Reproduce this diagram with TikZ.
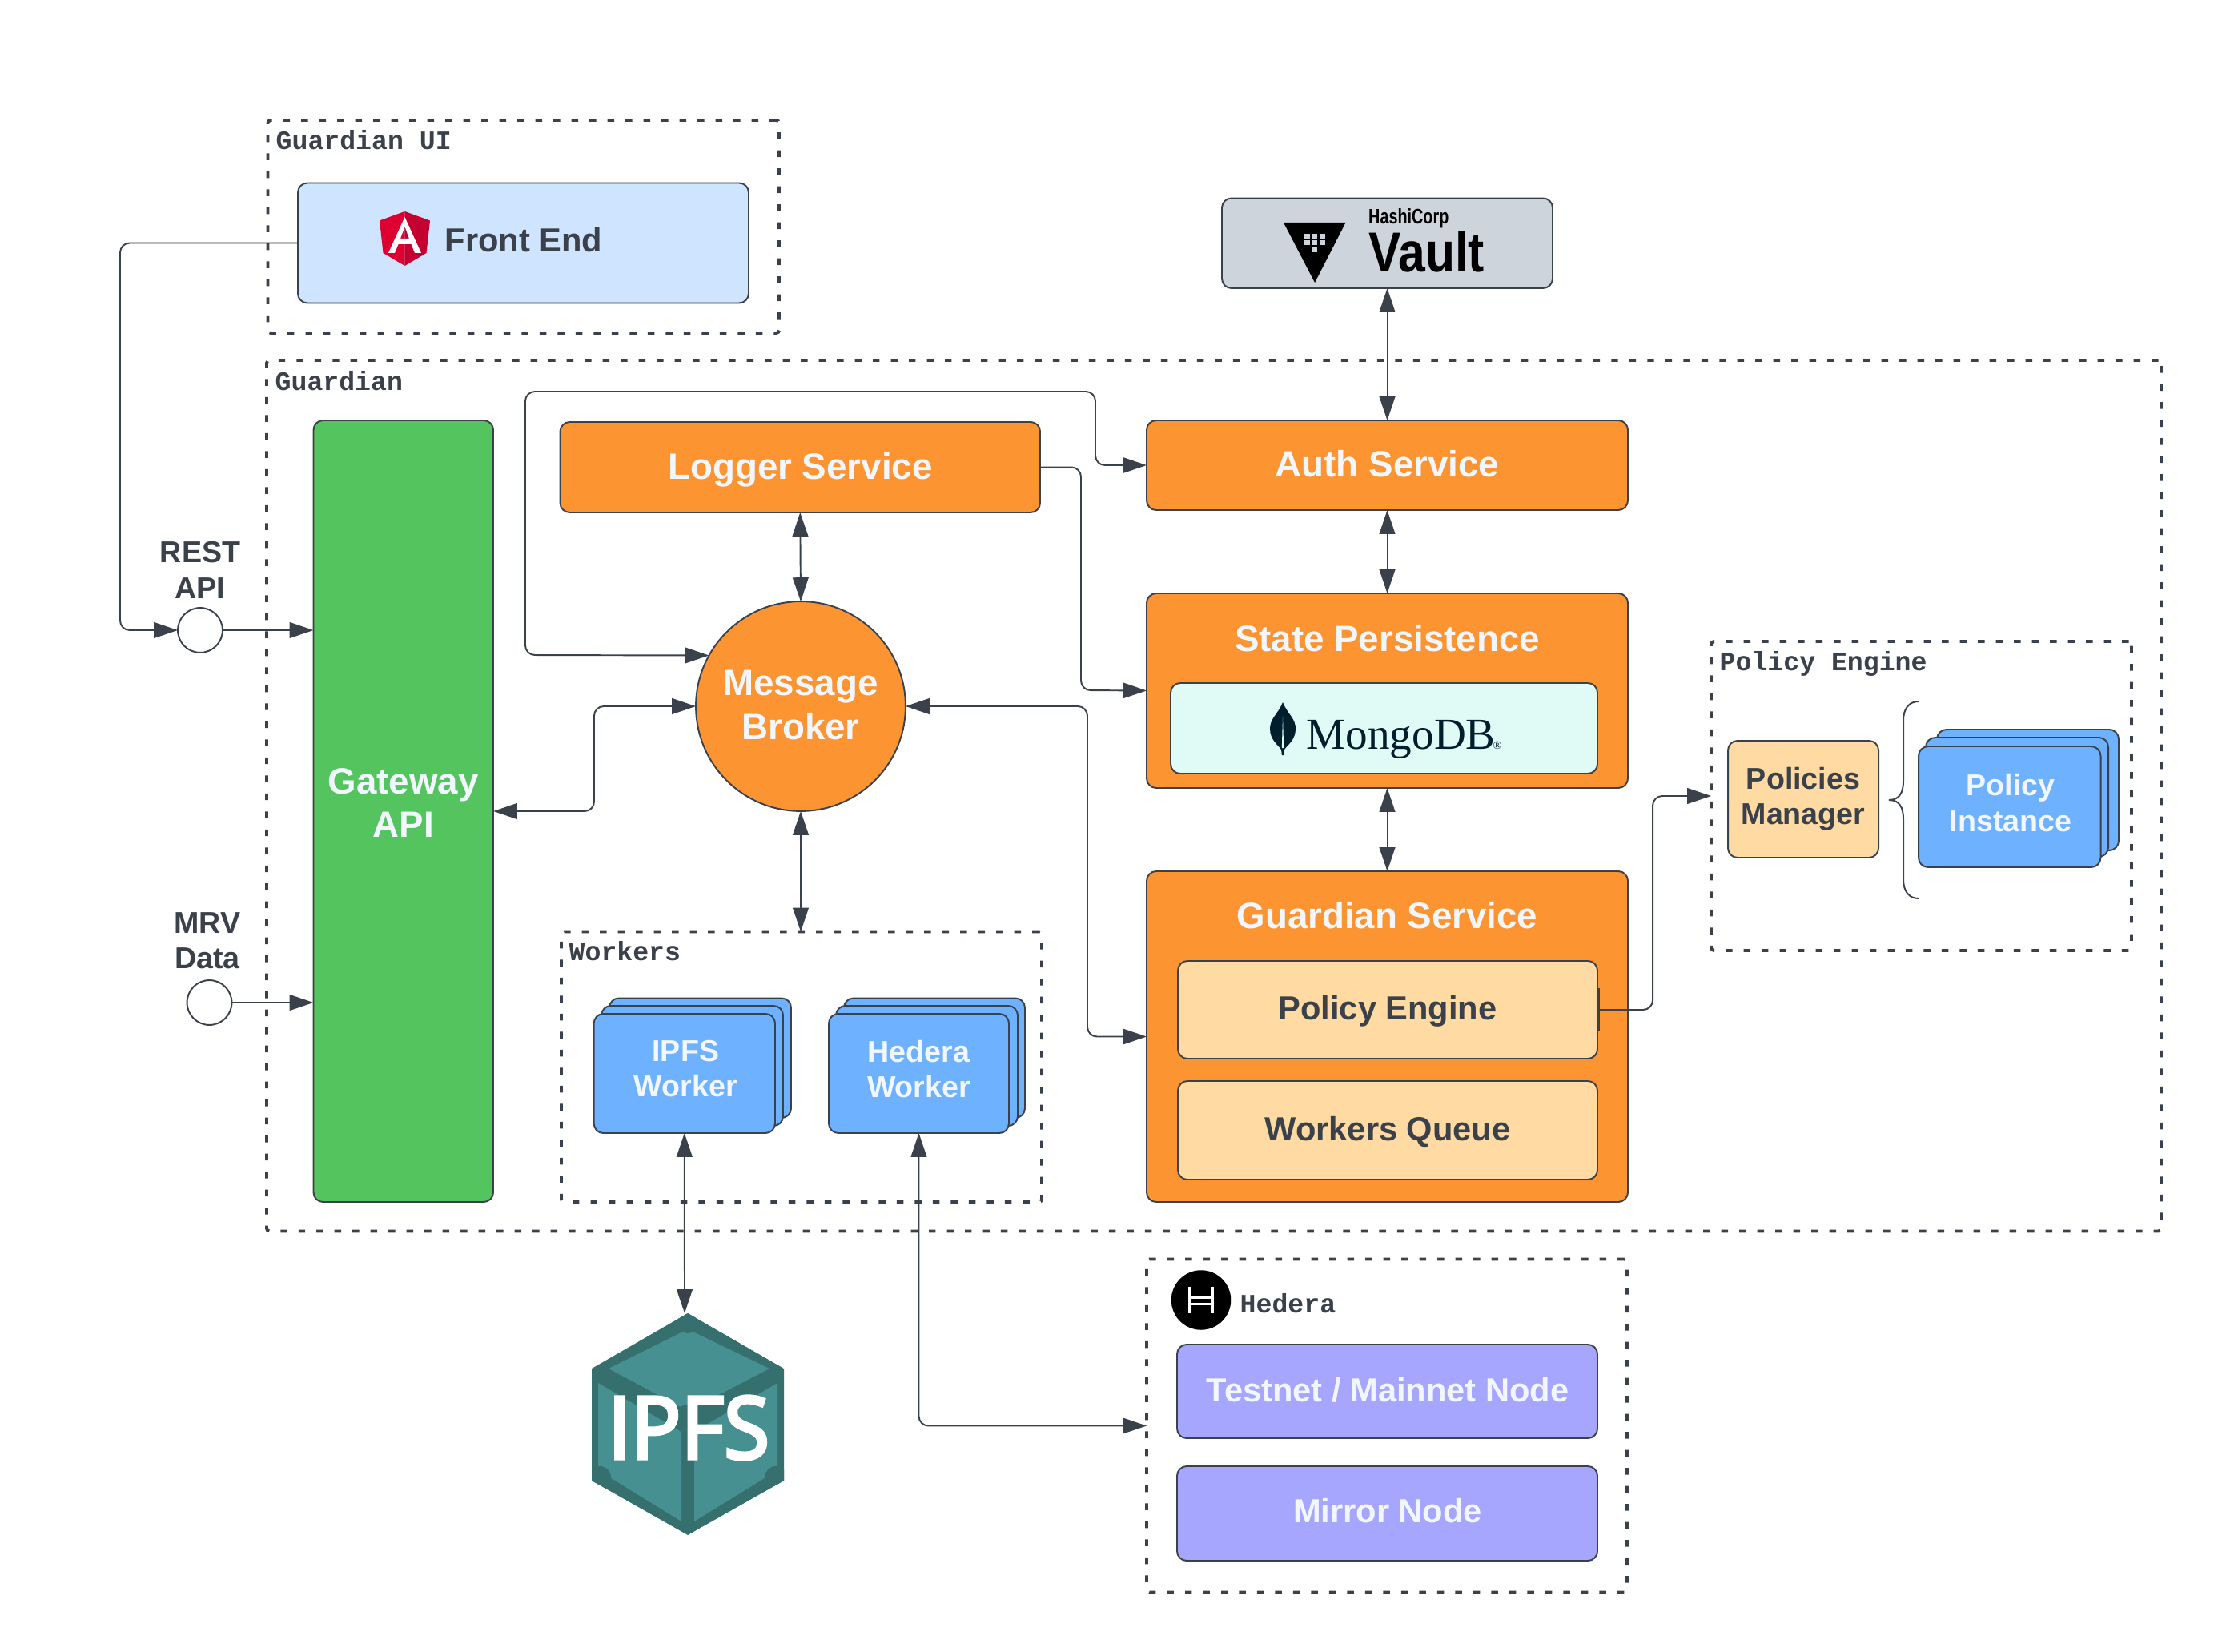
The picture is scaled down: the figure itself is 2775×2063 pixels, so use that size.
\documentclass[tikz,border=0pt]{standalone}
\usepackage{fontspec}
\usepackage{graphicx}
\setmainfont{Liberation Sans}
\setmonofont{Liberation Mono}
\newfontfamily\openf[FakeBold=4]{Open Sans}
\newfontfamily\serf{Liberation Serif}
\usetikzlibrary{arrows.meta}
\definecolor{ink}{HTML}{3A414A}
\definecolor{txtw}{HTML}{F2F7FF}
\definecolor{orng}{HTML}{FC9432}
\definecolor{grn}{HTML}{54C45E}
\definecolor{blu}{HTML}{6DB1FF}
\definecolor{lblu}{HTML}{CFE4FF}
\definecolor{pale}{HTML}{FFDBA3}
\definecolor{purp}{HTML}{A6A6FF}
\definecolor{gry}{HTML}{CED4DB}
\definecolor{mint}{HTML}{E0FAF6}
\definecolor{ipd}{HTML}{35706F}
\definecolor{ipl}{HTML}{469092}
\definecolor{mong}{HTML}{001E2B}
\definecolor{DDred}{HTML}{DD0031}
\definecolor{DDdark}{HTML}{C3002F}
\newcommand\fbig{\fontsize{13}{15.6}\selectfont\bfseries}
\newcommand\fmed{\fontsize{11.85}{14}\selectfont\bfseries}
\newcommand\fsma{\fontsize{10.7}{12.6}\selectfont\bfseries}
\newcommand\fmon{\fontsize{9.44}{11}\selectfont\ttfamily\bfseries}
\newcommand\bx[7]{\node[#6,minimum width={(#4-#2)*0.28453pt},minimum height={(#5-#3)*0.28453pt}] (#1) at ({(#2+#4)/2},{(#3+#5)/2}) {#7};}
\tikzset{
  allbox/.style={draw=ink,line width=0.55pt,rounded corners=3.4pt,inner sep=0pt,outer sep=0pt,align=center},
  orbox/.style={allbox,fill=orng},
  palebox/.style={allbox,fill=pale},
  blubox/.style={allbox,fill=blu},
  purbox/.style={allbox,fill=purp},
  framebox/.style={draw=ink,line width=1.1pt,dash pattern=on 2.4pt off 4pt,rounded corners=1pt,inner sep=0pt,outer sep=0pt},
  framelabel/.style={anchor=base west,inner sep=0pt,text=ink,font=\fmon},
  plainlabel/.style={inner sep=0pt,align=center,text=ink,font=\fsma},
  titlelabel/.style={inner sep=0pt,align=center,text=txtw,font=\fbig},
  medlabel/.style={inner sep=0pt,align=center,text=txtw,font=\fmed},
  inklabel/.style={inner sep=0pt,align=center,text=ink,font=\fmed},
  smalabel/.style={inner sep=0pt,align=center,text=txtw,font=\fsma},
  portc/.style={circle,draw=ink,fill=white,line width=0.55pt,inner sep=0pt,outer sep=0pt,minimum size=15.9pt},
  conn/.style={draw=ink,line width=0.55pt,rounded corners=3.4pt,-{Triangle[length=8.5pt,width=5.6pt]}},
  conn2/.style={draw=ink,line width=0.55pt,rounded corners=3.4pt,{Triangle[length=8.5pt,width=5.6pt]}-{Triangle[length=8.5pt,width=5.6pt]}},
}
\begin{document}
\begin{tikzpicture}[x=0.1mm,y=-0.1mm]
\useasboundingbox (0,0) rectangle (2775,2063);
\fill[white] (0,0) rectangle (2775,2063);
% frames
\bx{fui}{334.5}{150}{973}{416}{framebox}{}
\bx{fgd}{333}{450}{2699}{1537.5}{framebox}{}
\bx{fpe}{2137}{801}{2662}{1187}{framebox}{}
\bx{fwk}{701}{1163.5}{1301}{1501}{framebox}{}
\bx{fhd}{1432}{1572.5}{2032}{1988.5}{framebox}{}
\node[framelabel] (lui) at (344,187) {Guardian UI};
\node[framelabel] (lgd) at (343,488) {Guardian};
\node[framelabel] (lpe) at (2147,838) {Policy Engine};
\node[framelabel] (lwk) at (710,1199) {Workers};
\node[framelabel] (lhd) at (1548,1639) {Hedera};
% boxes
\bx{fe}{372}{228.5}{935}{378.5}{allbox,fill=lblu}{}
\node[anchor=west,inner sep=0pt,text=ink,font=\fmed] (fet) at (555,299.5) {Front End};
\bx{vault}{1526}{247.5}{1939}{360}{allbox,fill=gry}{}
\bx{gw}{391.5}{525}{616}{1501}{allbox,fill=grn}{}
\node[titlelabel] (gwt) at (503.7,1002.5) {Gateway\\API};
\bx{lg}{699.5}{527}{1299}{640}{orbox}{}
\node[titlelabel] (lgt) at (999.5,587) {Logger Service};
\bx{auth}{1432}{525}{2033}{637}{orbox}{}
\node[titlelabel] (autht) at (1732.5,579) {Auth Service};
\bx{st}{1432}{741}{2033}{984}{orbox}{}
\node[titlelabel] (stt) at (1732.5,797) {State Persistence};
\bx{mg}{1462}{853}{1995}{966}{allbox,fill=mint}{}
\bx{gs}{1432}{1088}{2033}{1501}{orbox}{}
\node[titlelabel] (gst) at (1732.5,1143) {Guardian Service};
\bx{pe}{1471}{1200}{1995}{1322}{palebox}{}
\node[inklabel] (pet) at (1733,1262.5) {Policy Engine};
\bx{wq}{1471}{1350}{1995}{1473}{palebox}{}
\node[inklabel] (wqt) at (1733,1413) {Workers Queue};
\node[circle,draw=ink,fill=orng,line width=0.55pt,inner sep=0pt,outer sep=0pt,minimum size=74.5pt,align=center,text=txtw,font=\fbig] (mb) at (1000,882) {};
\node[titlelabel] (mbt) at (1000,880.5) {Message\\Broker};
\bx{pm}{2158}{925}{2346}{1071}{allbox,fill=pale,text=ink,font=\fsma}{Policies\\Manager}
\bx{pi3}{2419}{911}{2646}{1062}{blubox}{}
\bx{pi2}{2405}{921}{2633}{1070}{blubox}{}
\bx{pi}{2396}{932}{2623.5}{1083}{blubox}{}
\node[smalabel] (pit) at (2511,1002.5) {Policy\\Instance};
\bx{iw3}{761}{1246.5}{988}{1396}{blubox}{}
\bx{iw2}{751}{1256}{978}{1406}{blubox}{}
\bx{iw}{741.6}{1266}{968}{1415}{blubox}{}
\node[smalabel] (iwt) at (856.3,1334.5) {IPFS\\Worker};
\bx{hw3}{1054}{1246.5}{1280}{1396}{blubox}{}
\bx{hw2}{1044}{1256}{1271}{1406}{blubox}{}
\bx{hw}{1035}{1266}{1260}{1415}{blubox}{}
\node[smalabel] (hwt) at (1147.5,1335) {Hedera\\Worker};
\bx{tn}{1470}{1679}{1995}{1796}{purbox}{}
\node[medlabel] (tnt) at (1733,1736) {Testnet / Mainnet Node};
\bx{mn}{1470}{1831}{1995}{1949}{purbox}{}
\node[medlabel] (mnt) at (1733,1887) {Mirror Node};
% ports
\node[portc] (rest) at (250,787) {};
\node[portc] (mrv) at (261.5,1252) {};
\node[plainlabel] (restl) at (250,712) {REST\\API};
\node[plainlabel] (mrvl) at (259,1175) {MRV\\Data};
% brace
\draw[draw=ink,line width=0.55pt] (2396,876) .. controls (2384,876) and (2377,885) .. (2377,900) -- (2377,975) .. controls (2377,990) and (2372,999) .. (2359,999) .. controls (2372,999) and (2377,1008) .. (2377,1023) -- (2377,1098) .. controls (2377,1113) and (2384,1122) .. (2396,1122);
% IPFS logo
\begin{scope}
\clip (859,1640) -- (979,1709) -- (979,1849) -- (859,1917) -- (739,1849) -- (739,1709) -- cycle;
\fill[ipd] (859,1640) -- (979,1709) -- (979,1849) -- (859,1917) -- (739,1849) -- (739,1709) -- cycle;
\fill[ipl] (859,1660) -- (961,1709) -- (859,1762) -- (760,1709) -- cycle;
\fill[ipl] (747,1727) -- (851,1788) -- (851,1900) -- (747,1836) -- cycle;
\fill[ipl] (971,1727) -- (867,1788) -- (867,1900) -- (971,1836) -- cycle;
\fill[ipd] (859,1652) circle (13);
\fill[ipd] (859,1772) circle (18);
\fill[ipd] (749,1845) circle (14);
\fill[ipd] (969,1845) circle (14);
\end{scope}
\node[inner sep=0pt,text=white] (ipfs) at (860,1783) {\resizebox{57.5pt}{22.2pt}{\openf IPFS}};
\coordinate (ipfstop) at (855,1640);
% Angular logo
\fill[fill=DDred] (505.5,264) -- (474,275.5) -- (478.5,316) -- (505.5,332) -- cycle;
\fill[fill=DDdark] (505.5,264) -- (537,275.5) -- (532.5,316) -- (505.5,332) -- cycle;
\fill[white,even odd rule] (505.5,271) -- (526,316) -- (518,316) -- (513.5,305) -- (497.5,305) -- (493,316) -- (485,316) -- cycle (505.5,283) -- (511,298) -- (500,298) -- cycle;
% Vault logo
\fill[black] (1603,278) -- (1680.5,278) -- (1642,353) -- cycle;
\foreach \sx/\sy in {1629/292,1638/292,1648/292,1629/300,1638/300,1648/300,1638/309}
  \fill[gry] (\sx,\sy) rectangle ++(6.5,6);
\node[anchor=base west,inner sep=0pt,text=black] (hc) at (1708.5,280) {\resizebox{28.5pt}{5.4pt}{\bfseries HashiCorp}};
\node[anchor=base west,inner sep=0pt,text=black] (vt) at (1708.5,340) {\resizebox{41.2pt}{14.5pt}{\bfseries Vault}};
% Mongo logo
\fill[mong] (1602,877) .. controls (1608,892) and (1618,897) .. (1618,910) .. controls (1618,924) and (1608,930) .. (1604,936) -- (1603,943) -- (1601,943) -- (1600,936) .. controls (1596,930) and (1586,924) .. (1586,910) .. controls (1586,897) and (1596,892) .. (1602,877) -- cycle;
\fill[mint] (1602,895) -- (1603.2,934) -- (1600.8,934) -- cycle;
\node[anchor=base west,inner sep=0pt,text=mong,font={\fontsize{15.7}{18}\selectfont\serf}] (mgt) at (1631,935) {MongoDB};
\node[anchor=base west,inner sep=0pt,text=mong,font={\fontsize{4}{5}\selectfont\serf}] (mgr) at (1864,935) {®};
% Hedera logo
\node[circle,fill=black,inner sep=0pt,outer sep=0pt,minimum size=21.2pt] (hdc) at (1500,1623.5) {};
\draw[white,line width=1.4pt] (1486,1607) -- (1486,1640) (1514,1607) -- (1514,1640);
\draw[white,line width=0.85pt] (1486,1620.5) -- (1514,1620.5) (1486,1628.5) -- (1514,1628.5);
% bends
\coordinate (b1) at (150,787);
\coordinate (b2) at (742,882);
\coordinate (b3) at (1368,489);
\coordinate (b4) at (656,818);
\coordinate (b5) at (1350,862);
\coordinate (b6) at (1358,882);
\coordinate (b7) at (2064,994);
\coordinate (b8) at (1147.5,1780.5);
% connectors
\draw[conn] (fe.west) -| (b1) -- (rest.west);
\draw[conn] (rest.east) -- (gw.west |- rest.east);
\draw[conn] (mrv.east) -- (gw.west |- mrv.east);
\draw[conn2] (lg.south) -- (mb.north);
\draw[conn2] (gw.east) -- (gw.east -| b2) -- (b2) -- (mb.west);
\draw[conn2] (auth.west) -- (auth.west -| b3) -- (b3) -- (b3 -| b4) -- (b4) -- (mb.151);
\draw[conn] (lg.east) -- (lg.east -| b5) -- (b5) -- (st.west);
\draw[conn2] (vault.south -| auth.north) -- (auth.north);
\draw[conn2] (auth.south) -- (st.north);
\draw[conn2] (st.south) -- (gs.north);
\draw[conn2] (mb.east) -- (b6) -- (b6 |- gs.west) -- (gs.west);
\draw[conn2] (mb.south) -- (fwk.north -| mb.south);
\draw[conn] (pe.east) -- (pe.east -| b7) -- (b7) -- (fpe.west);
\draw[draw=ink,line width=0.95pt] ([xshift=0.5pt,yshift=7.8pt]pe.east) -- ([xshift=0.5pt,yshift=-7.8pt]pe.east);
\draw[conn2] (iw.south) -- (ipfstop);
\draw[conn2] (hw.south) -- (b8) -- (fhd.west);
\end{tikzpicture}
\end{document}
